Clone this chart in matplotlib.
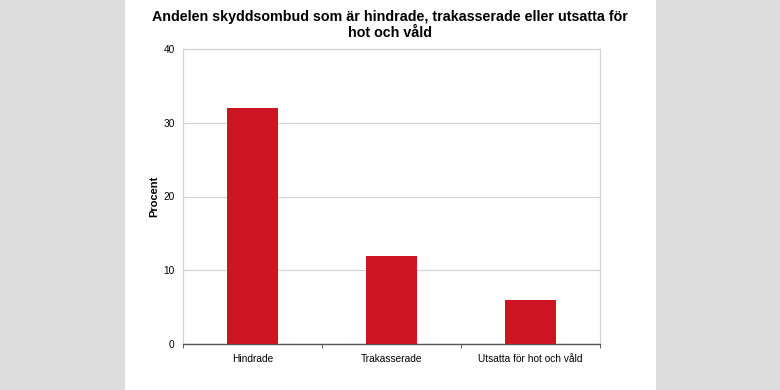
import matplotlib
matplotlib.use('Agg')
import matplotlib.pyplot as plt
from matplotlib.patches import Rectangle

# data
kategorier = ['Hindrade', 'Trakasserade', 'Utsatta för hot och våld']
procent = [32, 12, 6]
yticks = [0, 10, 20, 30, 40]

plt.rcParams['font.family'] = ['Liberation Sans', 'DejaVu Sans']

W, H = 780, 390
fig = plt.figure(figsize=(W / 100, H / 100), dpi=100)
fig.patch.set_facecolor('#dcdcdc')
# white panel in the middle
fig.patches.append(Rectangle((125 / W, 0), (656 - 125) / W, 1, transform=fig.transFigure,
                             facecolor='white', edgecolor='none', zorder=-1))

ax = fig.add_axes([183 / W, 1 - 344 / H, (600 - 183) / W, (344 - 49) / H])
ax.set_facecolor('white')

x = range(len(kategorier))
ax.bar(x, procent, width=0.36, color='#cd1423', zorder=3)

ax.set_xlim(-0.5, len(kategorier) - 0.5)
ax.set_ylim(0, 40)
ax.set_yticks(yticks)
ax.set_yticklabels([str(v) for v in yticks], fontsize=7.3)
ax.set_xticks(list(x))
ax.set_xticklabels(kategorier, fontsize=7.3)
ax.tick_params(axis='x', length=0, pad=7)
ax.tick_params(axis='y', length=0, pad=6)
# small ticks between categories on the x axis
ax.set_xticks([-0.5, 0.5, 1.5, 2.5], minor=True)
ax.tick_params(axis='x', which='minor', length=3, color='#444444')

ax.yaxis.grid(True, color='#d4d4d4', linewidth=0.9, zorder=0)
ax.set_axisbelow(True)
for s in ['left', 'right', 'top']:
    ax.spines[s].set_color('#d4d4d4')
    ax.spines[s].set_linewidth(0.9)
ax.spines['bottom'].set_color('#555555')
ax.spines['bottom'].set_linewidth(1.0)

ax.set_ylabel('Procent', fontsize=8, fontweight='bold', labelpad=3)

fig.text(390 / W, 1 - 25 / H, 'Andelen skyddsombud som är hindrade, trakasserade eller utsatta för\nhot och våld',
         ha='center', va='center', fontsize=10.3, fontweight='bold', linespacing=1.1)

plt.savefig('out.png', dpi=100, facecolor=fig.get_facecolor())
plt.close()
